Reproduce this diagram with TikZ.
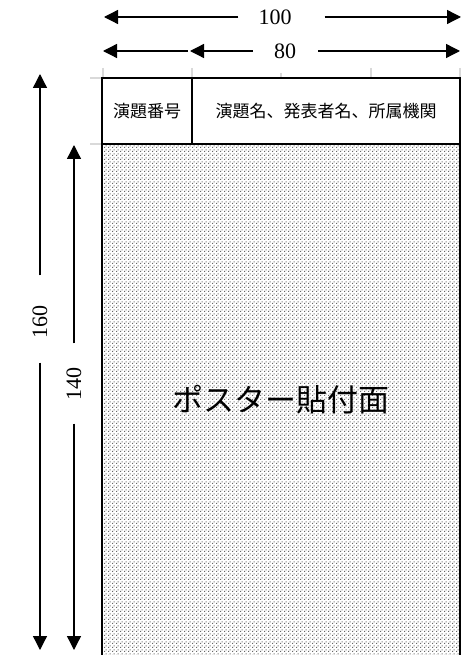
\documentclass[tikz,border=0pt]{standalone}
\usepackage{fontspec}
\newfontfamily\jp{Noto Sans CJK JP}
\newfontfamily\num{Liberation Serif}
\usepackage{tikz}
\usetikzlibrary{arrows.meta,positioning,patterns.meta}

\tikzdeclarepattern{
  name=pdots,
  type=uncolored,
  bottom left={(0pt,0pt)},
  top right={(4pt,4pt)},
  tile size={(4pt,4pt)},
  code={
    \fill (0pt,0pt) rectangle (1.3pt,1.3pt);
    \fill (2pt,2pt) rectangle (3.3pt,3.3pt);
  }
}

\begin{document}
\begin{tikzpicture}[x=1pt,y=-1pt]
      \tikzstyle{arr}=[line width=1.3pt,-{Triangle[length=14pt,width=14pt]}]
      \tikzstyle{dim}=[inner sep=0pt,font=\num\fontsize{22}{26}\selectfont]
      \tikzstyle{cell}=[draw,line width=1.5pt,inner sep=0pt,font=\jp\fontsize{17}{20}\selectfont]
      \tikzstyle{tick}=[draw=black!15,line width=1.5pt]
      \useasboundingbox (0,0) rectangle (463,655);
      % poster area
      \node[draw,line width=1.5pt,pattern={pdots},pattern color=black!60,
            minimum width=358pt,minimum height=512pt,inner sep=0pt,
            font=\jp\fontsize{31}{35}\selectfont] (poster) at (281,400) {ポスター貼付面};
      % header
      \node[cell,minimum width=90pt,minimum height=66pt] (num) at (147,111) {演題番号};
      \node[cell,minimum width=268pt,minimum height=66pt] (title) at (326,111) {演題名、発表者名、所属機関};
      % light ticks
      \foreach \x in {103,192,371,460}
        \draw[tick] (\x,68) -- (\x,77);
      \draw[tick] (281,73) -- (281,77);
      \draw[tick] (90,78) -- (101,78);
      \draw[tick] (90,144) -- (101,144);
      % width 100
      \node[dim] (w100) at (275,17) {100};
      \coordinate (w100l) at (104,17);
      \coordinate (w100r) at (461,17);
      \draw[arr] (w100.west) ++(-20,0) -- (w100l);
      \draw[arr] (w100.east) ++(33,0) -- (w100r);
      % width 80
      \coordinate (w20l) at (103,51);
      \coordinate (w20r) at (188,51);
      \draw[arr,{Triangle[length=14pt,width=14pt]}-] (w20l) -- (w20r);
      \node[dim] (w80) at (285,51) {80};
      \coordinate (w80l) at (190,51);
      \coordinate (w80r) at (460,51);
      \draw[arr] (w80.west) ++(-21,0) -- (w80l);
      \draw[arr] (w80.east) ++(22,0) -- (w80r);
      % height 160
      \node[dim,rotate=90] (h160) at (40,322) {160};
      \coordinate (h160t) at (40,74);
      \coordinate (h160b) at (40,650);
      \draw[arr] (h160.east) ++(0,-30) -- (h160t);
      \draw[arr] (h160.west) ++(0,24) -- (h160b);
      % height 140
      \node[dim,rotate=90] (h140) at (74,384) {140};
      \coordinate (h140t) at (74,145);
      \coordinate (h140b) at (74,650);
      \draw[arr] (h140.east) ++(0,-24) -- (h140t);
      \draw[arr] (h140.west) ++(0,23) -- (h140b);
\end{tikzpicture}
\end{document}
